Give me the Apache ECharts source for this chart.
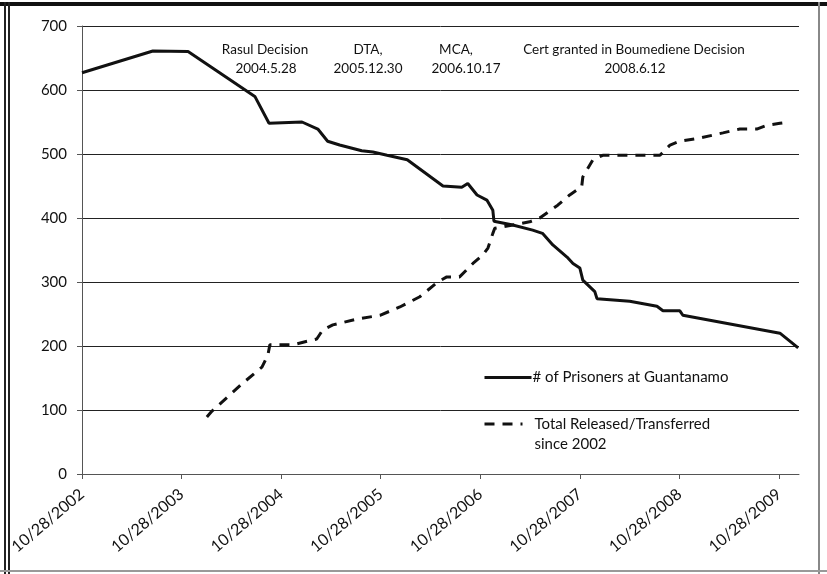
<!DOCTYPE html>
<html>
<head>
<meta charset="utf-8">
<script src="https://cdn.jsdelivr.net/npm/echarts@6/dist/echarts.min.js"></script>
<style>
html,body{margin:0;padding:0;background:#fff;}
#chart{width:827px;height:574px;}
</style>
</head>
<body>
<div id="chart"></div>
<script>
// ---- Data ----
const startDate = '2002-10-28';
const xTickLabels = ['10/28/2002','10/28/2003','10/28/2004','10/28/2005','10/28/2006','10/28/2007','10/28/2008','10/28/2009'];
const yTicks = [0,100,200,300,400,500,600,700];

const prisonerName = '# of Prisoners at Guantanamo';
const prisonerDates = ['2002-10-28','2003-07-15','2003-11-21','2004-07-23','2004-09-13','2005-01-12','2005-03-11','2005-04-16','2005-05-30','2005-08-19','2005-09-29','2005-11-20','2006-02-02','2006-06-13','2006-08-21','2006-09-12','2006-10-16','2006-11-21','2006-12-13','2006-12-17','2007-02-24','2007-05-08','2007-06-13','2007-07-21','2007-09-11','2007-10-03','2007-10-28','2007-11-08','2007-12-22','2007-12-30','2008-04-28','2008-08-06','2008-08-28','2008-10-29','2008-11-09','2009-10-31','2010-01-06'];
const prisonerCounts = [627,661,660,590,548,550,539,520,514,505,503,498,491,450,448,454,436,428,412,395,389,381,376,358,339,329,322,303,285,274,270,262,255,255,248,220,197];

const releasedName = 'Total Released/Transferred\nsince 2002';
const releasedDates = ['2004-01-29','2004-02-16','2004-06-09','2004-08-18','2004-09-09','2004-09-16','2004-12-10','2005-03-07','2005-03-29','2005-05-05','2005-08-01','2005-10-25','2006-01-06','2006-03-20','2006-05-25','2006-06-27','2006-08-13','2006-10-01','2006-11-06','2006-11-25','2006-12-13','2006-12-20','2007-04-27','2007-06-03','2007-08-08','2007-09-21','2007-11-04','2007-11-08','2007-12-15','2008-01-20','2008-08-17','2008-09-23','2008-10-29','2009-01-11','2009-04-05','2009-06-06','2009-08-07','2009-09-14','2009-10-31','2009-12-07'];
const releasedCounts = [89,98,142,167,186,202,202,211,225,233,242,248,261,277,300,308,308,329,342,353,376,384,394,400,420,436,449,464,491,498,498,514,520,525,533,539,539,545,548,550];

const annotations = [
  ['Rasul Decision','2004.5.28'],
  ['DTA,','2005.12.30'],
  ['MCA,','2006.10.17'],
  ['Cert granted in Boumediene Decision','2008.6.12']
];

// ---- Helpers ----
const DAY = 86400000;
const t0 = Date.parse(startDate + 'T00:00:00Z');
const toDays = d => (Date.parse(d + 'T00:00:00Z') - t0) / DAY;
const YEAR = 365.25;
const tickValues = xTickLabels.map((_, i) => i * YEAR);
const prisonerData = prisonerDates.map((d, i) => [toDays(d), prisonerCounts[i]]);
const releasedData = releasedDates.map((d, i) => [toDays(d), releasedCounts[i]]);

const FONT = 'Lato, "Open Sans", sans-serif';
const TXT = '#111';

const graphics = [];
const line1X = [265, 368, 456, 634];
const line2X = [266, 368, 466, 635];
annotations.forEach((a, i) => {
  graphics.push({type:'text', x: line1X[i], y: 50, style:{text:a[0], fill:TXT, font:'13.5px ' + FONT, textAlign:'center', textVerticalAlign:'middle'}});
  graphics.push({type:'text', x: line2X[i], y: 69, style:{text:a[1], fill:TXT, font:'13.5px ' + FONT, textAlign:'center', textVerticalAlign:'middle'}});
});
// frame
graphics.push({type:'rect', shape:{x:0, y:2, width:827, height:4}, style:{fill:'#111'}, silent:true});
graphics.push({type:'rect', shape:{x:4, y:2, width:2, height:572}, style:{fill:'#222'}, silent:true});
graphics.push({type:'rect', shape:{x:8, y:2, width:2, height:572}, style:{fill:'#222'}, silent:true});
graphics.push({type:'rect', shape:{x:818, y:2, width:2, height:572}, style:{fill:'#888'}, silent:true});
graphics.push({type:'rect', shape:{x:0, y:570, width:827, height:2}, style:{fill:'#999'}, silent:true});

const chart = echarts.init(document.getElementById('chart'), null, {renderer:'canvas'});
chart.setOption({
  backgroundColor:'#fff',
  animation:false,
  textStyle:{fontFamily:FONT},
  grid:{left:82, right:28, top:26, bottom:100, containLabel:false, outerBoundsMode:'none'},
  legend:[{
    orient:'vertical', left:478, top:365, itemWidth:47, itemHeight:14, itemGap:0,
    data:[{name:prisonerName}],
    textStyle:{color:TXT, fontSize:15, fontFamily:FONT, padding:[0,0,0,-4]},
    itemStyle:{opacity:0},
    lineStyle:{width:3}
  },{
    orient:'vertical', left:478, top:389, itemWidth:38, itemHeight:14, itemGap:0,
    data:[{name:releasedName}],
    formatter: n => ' \n' + n,
    textStyle:{color:TXT, fontSize:15, fontFamily:FONT, lineHeight:20, padding:[0,0,0,7]},
    itemStyle:{opacity:0},
    lineStyle:{width:3}
  }],
  xAxis:{
    type:'value', min:0, max:2630,
    axisLine:{show:true, lineStyle:{color:'#555', width:1}},
    axisTick:{show:true, customValues:tickValues, length:5, lineStyle:{color:'#555'}},
    axisLabel:{customValues:tickValues, rotate:40, margin:18, color:TXT, fontSize:16, fontFamily:FONT,
      formatter: v => xTickLabels[Math.round(v / YEAR)] || ''},
    splitLine:{show:false}
  },
  yAxis:{
    type:'value', min:yTicks[0], max:yTicks[yTicks.length-1], interval:100,
    axisLine:{show:true, lineStyle:{color:'#555', width:1}},
    axisTick:{show:true, length:5, lineStyle:{color:'#555'}},
    axisLabel:{margin:15, color:TXT, fontSize:15, fontFamily:FONT},
    splitLine:{show:true, lineStyle:{color:'#222', width:1}}
  },
  series:[{
    name:prisonerName, type:'line', data:prisonerData, showSymbol:false, symbol:'none',
    lineStyle:{color:'#111', width:3}, itemStyle:{color:'#111'}, z:3
  },{
    name:releasedName, type:'line', data:releasedData, showSymbol:false, symbol:'none',
    lineStyle:{color:'#111', width:3, type:[10,8]}, itemStyle:{color:'#111'}, z:3
  }],
  graphic:graphics
});
</script>
</body>
</html>
